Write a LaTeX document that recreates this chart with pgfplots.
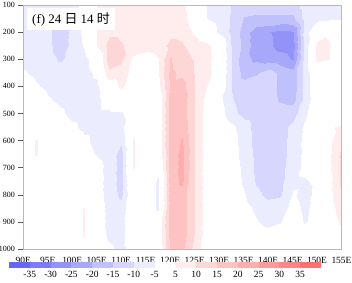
\documentclass[border=0pt]{standalone}
\usepackage{fontspec}
\setmainfont{Liberation Serif}
\newfontfamily\cjk{Noto Sans CJK SC}
\usepackage{pgfplots}
\pgfplotsset{compat=1.18}
\definecolor{cbA}{RGB}{102,102,245}
\definecolor{cbB}{RGB}{124,124,247}
\definecolor{cbC}{RGB}{146,146,249}
\definecolor{cbD}{RGB}{168,168,251}
\definecolor{cbE}{RGB}{192,192,253}
\definecolor{cbF}{RGB}{214,214,255}
\definecolor{cbG}{RGB}{236,236,255}
\definecolor{crA}{RGB}{255,236,236}
\definecolor{crB}{RGB}{255,214,214}
\definecolor{crC}{RGB}{255,194,194}
\definecolor{crD}{RGB}{255,174,174}
\definecolor{crE}{RGB}{255,154,154}
\definecolor{crF}{RGB}{255,134,134}
\definecolor{crG}{RGB}{255,112,112}
\pgfplotsset{colormap={wrf}{rgb255(0pt)=(102,102,245) rgb255(5pt)=(124,124,247) rgb255(10pt)=(146,146,249) rgb255(15pt)=(168,168,251) rgb255(20pt)=(192,192,253) rgb255(25pt)=(214,214,255) rgb255(30pt)=(236,236,255) rgb255(35pt)=(255,255,255) rgb255(40pt)=(255,255,255) rgb255(45pt)=(255,236,236) rgb255(50pt)=(255,214,214) rgb255(55pt)=(255,194,194) rgb255(60pt)=(255,174,174) rgb255(65pt)=(255,154,154) rgb255(70pt)=(255,134,134) rgb255(75pt)=(255,112,112) rgb255(80pt)=(255,112,112)}}
\begin{document}
\begin{tikzpicture}
\path[use as bounding box] (-23.3bp,-34bp) rectangle (328.7bp,249bp);
\begin{axis}[
  at={(0bp,0bp)}, anchor=south west,
  scale only axis, width=318.2bp, height=244bp,
  xmin=90, xmax=155, ymin=100, ymax=1000, y dir=reverse,
  xtick={90,95,...,155},
  xticklabels={90E,95E,100E,105E,110E,115E,120E,125E,130E,135E,140E,145E,150E,155E},
  ytick={100,200,...,1000},
  /pgf/number format/assume math mode=true,
  /pgf/number format/1000 sep={},
  yticklabel style={font=\fontsize{8}{9}\selectfont},
  xticklabel style={font=\fontsize{9.5}{11}\selectfont},
  tick pos=left, tick align=outside,
  major tick length=5bp,
  ytick style={draw=gray!70!black, line width=0.5pt},
  xtick style={draw=none},
  axis line style={draw=gray!55, line width=0.9pt},
  colormap name=wrf, colormap access=piecewise constant,
  point meta min=-40, point meta max=40,
  axis on top, clip=false,
]
\addplot[surf, shader=interp, mesh/rows=19, mesh/cols=27, point meta=explicit] table[row sep=\\, meta=v] {
x y v\\
90 100 -6\\92.5 100 -7\\95 100 -8\\97.5 100 -8\\100 100 -7\\102.5 100 -3\\105 100 5\\107.5 100 8\\110 100 8\\112.5 100 7\\115 100 7\\117.5 100 7.5\\120 100 8\\122.5 100 7\\125 100 0\\127.5 100 -5.5\\130 100 -7\\132.5 100 -10\\135 100 -13\\137.5 100 -13\\140 100 -13\\142.5 100 -13\\145 100 -13\\147.5 100 -7\\150 100 -6\\152.5 100 -6\\155 100 -5.5\\
90 150 -6\\92.5 150 -7\\95 150 -9\\97.5 150 -12\\100 150 -9\\102.5 150 -3\\105 150 5\\107.5 150 8\\110 150 8\\112.5 150 7\\115 150 7\\117.5 150 7.5\\120 150 8\\122.5 150 7.5\\125 150 1\\127.5 150 -5\\130 150 -7\\132.5 150 -10.5\\135 150 -15.5\\137.5 150 -16\\140 150 -16\\142.5 150 -16\\145 150 -16\\147.5 150 -8\\150 150 -6\\152.5 150 -5.5\\155 150 -5\\
90 200 -6\\92.5 200 -7\\95 200 -9\\97.5 200 -12.5\\100 200 -9\\102.5 200 -3.5\\105 200 5\\107.5 200 9\\110 200 9\\112.5 200 7\\115 200 7\\117.5 200 8\\120 200 9\\122.5 200 9\\125 200 4\\127.5 200 0\\130 200 -6\\132.5 200 -11\\135 200 -17\\137.5 200 -23\\140 200 -24.5\\142.5 200 -26.5\\145 200 -25.5\\147.5 200 -7\\150 200 0\\152.5 200 4\\155 200 0\\
90 250 -6\\92.5 250 -7\\95 250 -9\\97.5 250 -12\\100 250 -9\\102.5 250 -4.5\\105 250 5\\107.5 250 12\\110 250 10.5\\112.5 250 8\\115 250 7\\117.5 250 8\\120 250 11\\122.5 250 10.5\\125 250 8\\127.5 250 6.5\\130 250 2\\132.5 250 -10\\135 250 -17\\137.5 250 -22.5\\140 250 -24\\142.5 250 -26.5\\145 250 -27\\147.5 250 -8\\150 250 7\\152.5 250 5.5\\155 250 0\\
90 300 -6\\92.5 300 -7\\95 300 -8.5\\97.5 300 -10.5\\100 300 -9\\102.5 300 -7\\105 300 -1\\107.5 300 13\\110 300 11\\112.5 300 4\\115 300 2\\117.5 300 4.5\\120 300 15.5\\122.5 300 12\\125 300 9.5\\127.5 300 6.5\\130 300 2\\132.5 300 -10\\135 300 -18.5\\137.5 300 -21\\140 300 -22\\142.5 300 -23\\145 300 -25.5\\147.5 300 -8\\150 300 6.5\\152.5 300 5\\155 300 0\\
90 350 -4.5\\92.5 350 -6\\95 350 -7\\97.5 350 -8\\100 350 -8\\102.5 350 -7\\105 350 -4\\107.5 350 9\\110 350 8\\112.5 350 3\\115 350 0\\117.5 350 4.5\\120 350 16\\122.5 350 14\\125 350 9.5\\127.5 350 6.5\\130 350 2\\132.5 350 -10\\135 350 -17\\137.5 350 -15.5\\140 350 -12.5\\142.5 350 -16\\145 350 -18\\147.5 350 -8\\150 350 0\\152.5 350 0\\155 350 -1\\
90 400 -2\\92.5 400 -4.5\\95 400 -6\\97.5 400 -7\\100 400 -7.5\\102.5 400 -7\\105 400 -6\\107.5 400 1\\110 400 6\\112.5 400 2\\115 400 -1\\117.5 400 3\\120 400 16\\122.5 400 17\\125 400 10\\127.5 400 5\\130 400 1\\132.5 400 -10\\135 400 -13\\137.5 400 -13\\140 400 -12.5\\142.5 400 -16\\145 400 -18\\147.5 400 -8\\150 400 0\\152.5 400 -1\\155 400 -1\\
90 450 0\\92.5 450 -2\\95 450 -4.5\\97.5 450 -6\\100 450 -7\\102.5 450 -7\\105 450 -6.5\\107.5 450 -2\\110 450 1\\112.5 450 0\\115 450 -1\\117.5 450 0\\120 450 17\\122.5 450 18\\125 450 9.5\\127.5 450 3\\130 450 -3\\132.5 450 -9.5\\135 450 -12\\137.5 450 -12.5\\140 450 -13\\142.5 450 -15.5\\145 450 -16.5\\147.5 450 -8\\150 450 -1\\152.5 450 -1\\155 450 0\\
90 500 0\\92.5 500 0\\95 500 -2\\97.5 500 -4\\100 500 -6.5\\102.5 500 -6.5\\105 500 -6\\107.5 500 -6\\110 500 -5.5\\112.5 500 -2\\115 500 -1\\117.5 500 0\\120 500 17\\122.5 500 18\\125 500 9.5\\127.5 500 2\\130 500 -2\\132.5 500 -8.5\\135 500 -11.5\\137.5 500 -12\\140 500 -12\\142.5 500 -12.5\\145 500 -12\\147.5 500 -6\\150 500 -1\\152.5 500 0\\155 500 0\\
90 550 0\\92.5 550 0\\95 550 0\\97.5 550 -2\\100 550 -4\\102.5 550 -6\\105 550 -6.5\\107.5 550 -6.5\\110 550 -7\\112.5 550 4\\115 550 1\\117.5 550 0\\120 550 17\\122.5 550 18.5\\125 550 9.5\\127.5 550 2\\130 550 0\\132.5 550 -3.5\\135 550 -8\\137.5 550 -11.5\\140 550 -12\\142.5 550 -12\\145 550 -8.5\\147.5 550 -4\\150 550 0\\152.5 550 4\\155 550 6\\
90 600 0\\92.5 600 5.5\\95 600 0\\97.5 600 0\\100 600 -1.5\\102.5 600 -4\\105 600 -6.5\\107.5 600 -6\\110 600 -9\\112.5 600 5.5\\115 600 2\\117.5 600 0\\120 600 17\\122.5 600 20.5\\125 600 9.5\\127.5 600 2\\130 600 0\\132.5 600 -2.5\\135 600 -7.5\\137.5 600 -11.5\\140 600 -12\\142.5 600 -12\\145 600 -8\\147.5 600 -3.5\\150 600 0\\152.5 600 4\\155 600 9\\
90 650 0\\92.5 650 5.5\\95 650 0\\97.5 650 0\\100 650 0\\102.5 650 -3\\105 650 -5.5\\107.5 650 -7\\110 650 -12\\112.5 650 5.5\\115 650 2\\117.5 650 0\\120 650 17\\122.5 650 21.5\\125 650 9.5\\127.5 650 2\\130 650 0\\132.5 650 -2\\135 650 -7\\137.5 650 -11\\140 650 -12\\142.5 650 -12\\145 650 -8\\147.5 650 -3.5\\150 650 -1\\152.5 650 4\\155 650 11\\
90 700 0\\92.5 700 0\\95 700 0\\97.5 700 0\\100 700 0\\102.5 700 -1\\105 700 -3\\107.5 700 -7\\110 700 -12\\112.5 700 5.5\\115 700 1\\117.5 700 -3\\120 700 17\\122.5 700 21.5\\125 700 9.5\\127.5 700 2\\130 700 0\\132.5 700 -1.5\\135 700 -6.5\\137.5 700 -11\\140 700 -12\\142.5 700 -11.5\\145 700 -7.5\\147.5 700 -3.5\\150 700 -2\\152.5 700 4\\155 700 11\\
90 750 0\\92.5 750 0\\95 750 0\\97.5 750 0\\100 750 0\\102.5 750 0\\105 750 -3\\107.5 750 -7\\110 750 -12\\112.5 750 2\\115 750 -1\\117.5 750 -6\\120 750 17\\122.5 750 21\\125 750 9.5\\127.5 750 2\\130 750 0\\132.5 750 -1\\135 750 -6\\137.5 750 -10.5\\140 750 -12\\142.5 750 -11.5\\145 750 -6\\147.5 750 -5.5\\150 750 -4\\152.5 750 3\\155 750 11\\
90 800 0\\92.5 800 0\\95 800 0\\97.5 800 0\\100 800 0\\102.5 800 2\\105 800 -3\\107.5 800 -7\\110 800 -11\\112.5 800 0\\115 800 -1\\117.5 800 -6\\120 800 17\\122.5 800 18\\125 800 9.5\\127.5 800 2\\130 800 0\\132.5 800 0\\135 800 -4.5\\137.5 800 -9\\140 800 -11\\142.5 800 -10.5\\145 800 -4.5\\147.5 800 -6.5\\150 800 -3.5\\152.5 800 3\\155 800 10\\
90 850 0\\92.5 850 0\\95 850 0\\97.5 850 0\\100 850 0\\102.5 850 5.5\\105 850 -2\\107.5 850 -6.5\\110 850 -8\\112.5 850 0\\115 850 -1\\117.5 850 -6\\120 850 17\\122.5 850 18\\125 850 9.5\\127.5 850 2\\130 850 0\\132.5 850 0\\135 850 -3\\137.5 850 -6\\140 850 -8\\142.5 850 -7\\145 850 -3.5\\147.5 850 -6\\150 850 -3\\152.5 850 2\\155 850 8\\
90 900 0\\92.5 900 0\\95 900 0\\97.5 900 0\\100 900 0\\102.5 900 5.5\\105 900 -2\\107.5 900 -6.5\\110 900 -7\\112.5 900 0\\115 900 0\\117.5 900 0\\120 900 17\\122.5 900 18\\125 900 9.5\\127.5 900 2\\130 900 0\\132.5 900 0\\135 900 -2\\137.5 900 -4.5\\140 900 -6.5\\142.5 900 -5.2\\145 900 -2.5\\147.5 900 -5.5\\150 900 -2\\152.5 900 1\\155 900 6\\
90 950 0\\92.5 950 0\\95 950 0\\97.5 950 0\\100 950 0\\102.5 950 5.5\\105 950 -2\\107.5 950 -6\\110 950 -7\\112.5 950 -1\\115 950 0\\117.5 950 0\\120 950 16.5\\122.5 950 18\\125 950 9.5\\127.5 950 2\\130 950 0\\132.5 950 0\\135 950 0\\137.5 950 -2\\140 950 -3\\142.5 950 -3\\145 950 -2\\147.5 950 -2\\150 950 -1\\152.5 950 0\\155 950 2\\
90 1000 0\\92.5 1000 0\\95 1000 0\\97.5 1000 0\\100 1000 0\\102.5 1000 2\\105 1000 -1\\107.5 1000 -4\\110 1000 -6.5\\112.5 1000 -3\\115 1000 0\\117.5 1000 0\\120 1000 15\\122.5 1000 16\\125 1000 8\\127.5 1000 1\\130 1000 0\\132.5 1000 0\\135 1000 0\\137.5 1000 0\\140 1000 0\\142.5 1000 0\\145 1000 0\\147.5 1000 0\\150 1000 0\\152.5 1000 0\\155 1000 0\\
};
\draw[gray!60!black, line width=0.8pt] (axis description cs:0,1) -- (axis description cs:0,0) -- (axis description cs:1,0);
\node[fill=white, inner xsep=5bp, inner ysep=4bp, anchor=north west, font=\fontsize{13}{15}\selectfont] at (axis description cs:0.0116,0.9877) {(f) 24 {\cjk 日} 14 {\cjk 时}};
\end{axis}
\begin{axis}[
  at={(-14.3bp,-19bp)}, anchor=south west,
  scale only axis, width=312bp, height=6bp,
  xmin=0, xmax=15, ymin=0, ymax=1,
  axis line style={draw=none},
  ytick=\empty,
  xtick={1,...,14},
  xticklabels={-35,-30,-25,-20,-15,-10,-5,5,10,15,20,25,30,35},
  major tick length=0pt, xtick style={draw=none},
  xticklabel style={font=\fontsize{9.5}{11}\selectfont},
  clip=false,
]
\addplot[fill=cbA, draw=none] coordinates {(0,0) (1,0) (1,1) (0,1)} -- cycle;
\addplot[fill=cbB, draw=none] coordinates {(1,0) (2,0) (2,1) (1,1)} -- cycle;
\addplot[fill=cbC, draw=none] coordinates {(2,0) (3,0) (3,1) (2,1)} -- cycle;
\addplot[fill=cbD, draw=none] coordinates {(3,0) (4,0) (4,1) (3,1)} -- cycle;
\addplot[fill=cbE, draw=none] coordinates {(4,0) (5,0) (5,1) (4,1)} -- cycle;
\addplot[fill=cbF, draw=none] coordinates {(5,0) (6,0) (6,1) (5,1)} -- cycle;
\addplot[fill=cbG, draw=none] coordinates {(6,0) (7,0) (7,1) (6,1)} -- cycle;
\addplot[fill=white, draw=none] coordinates {(7,0) (8,0) (8,1) (7,1)} -- cycle;
\addplot[fill=crA, draw=none] coordinates {(8,0) (9,0) (9,1) (8,1)} -- cycle;
\addplot[fill=crB, draw=none] coordinates {(9,0) (10,0) (10,1) (9,1)} -- cycle;
\addplot[fill=crC, draw=none] coordinates {(10,0) (11,0) (11,1) (10,1)} -- cycle;
\addplot[fill=crD, draw=none] coordinates {(11,0) (12,0) (12,1) (11,1)} -- cycle;
\addplot[fill=crE, draw=none] coordinates {(12,0) (13,0) (13,1) (12,1)} -- cycle;
\addplot[fill=crF, draw=none] coordinates {(13,0) (14,0) (14,1) (13,1)} -- cycle;
\addplot[fill=crG, draw=none] coordinates {(14,0) (15,0) (15,1) (14,1)} -- cycle;
\end{axis}
\end{tikzpicture}
\end{document}
